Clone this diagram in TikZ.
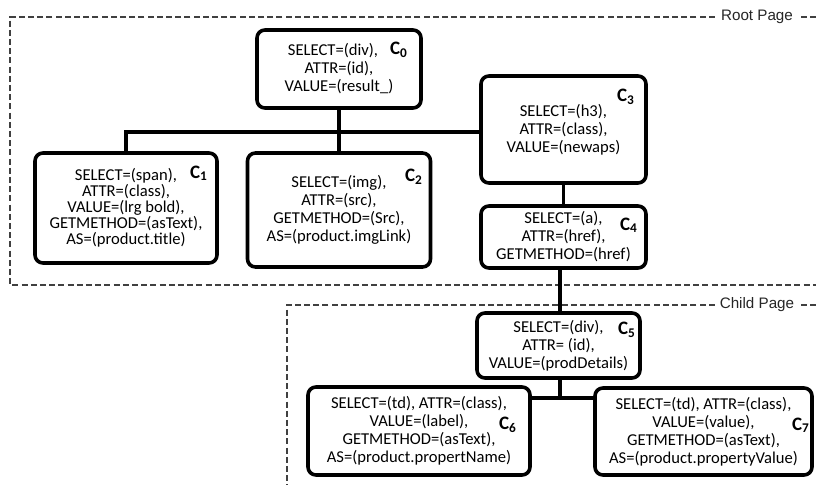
\documentclass[tikz,border=0pt]{standalone}
\usepackage{fontspec}
\setmainfont{Carlito}
\newfontfamily\arialfont{Liberation Sans}

\begin{document}
\begin{tikzpicture}[x=0.5pt, y=-0.5pt, every node/.style={font=\fontsize{8.3}{9}\selectfont},
	box/.style={draw, line width=1.8pt, rounded corners=4pt, align=center, inner sep=0pt},
	lab/.style={font=\fontsize{9.5}{10}\selectfont\bfseries, inner sep=0pt},
	wire/.style={line width=1.8pt},
	page/.style={dash pattern=on 3pt off 1.6pt, line width=0.75pt, black!75},
	pagelab/.style={fill=white, font=\fontsize{7.6}{9}\selectfont\arialfont, inner sep=2.5pt, text=black!85}]
	\useasboundingbox (0,0) rectangle (816,485);
	% page frames
	\draw[page] (816,17) -- (10,17) -- (10,285) -- (816,285);
	\node[pagelab] (root) at (757,17) {Root Page};
	\draw[page] (816,305) -- (287,305) -- (287,485);
	\node[pagelab] (child) at (757,305) {Child Page};
	% root page boxes
	\node[box, minimum width=82pt, minimum height=39pt] (c0) at (339,69) {SELECT=(div),\hspace*{6pt}\\ ATTR=(id),\hspace*{6pt}\\ VALUE=(result\_)};
	\node[box, minimum width=91pt, minimum height=55pt, font=\fontsize{8.3}{8}\selectfont] (c1) at (126,208) {SELECT=(span),\\ ATTR=(class),\\ VALUE=(lrg bold),\\ GETMETHOD=(asText),\\ AS=(product.title)};
	\node[box, minimum width=91.5pt, minimum height=57pt] (c2) at (339,210) {SELECT=(img),\\ ATTR=(src),\\ GETMETHOD=(Src),\\ AS=(product.imgLink)};
	\node[box, minimum width=82.5pt, minimum height=53.5pt] (c3) at (563.5,129.5) {SELECT=(h3),\\ ATTR=(class),\\ VALUE=(newaps)};
	\node[box, minimum width=82.5pt, minimum height=31pt] (c4) at (563.5,237) {SELECT=(a),\\ ATTR=(href),\\ GETMETHOD=(href)};
	% child page boxes
	\node[box, minimum width=81.5pt, minimum height=32.5pt] (c5) at (558.5,345.5) {SELECT=(div),\\ ATTR= (id),\\ VALUE=(prodDetails)};
	\node[box, minimum width=111pt, minimum height=44pt] (c6) at (419,431) {SELECT=(td), ATTR=(class),\\ VALUE=(label),\\ GETMETHOD=(asText),\\ AS=(product.propertName)};
	\node[box, minimum width=108.5pt, minimum height=43.5pt] (c7) at (703.5,431.5) {SELECT=(td), ATTR=(class),\\ VALUE=(value),\\ GETMETHOD=(asText),\\ AS=(product.propertyValue)};
	% labels
	\node[lab] (l0) at (399,50) {C\textsubscript{0}};
	\node[lab] (l1) at (199,173) {C\textsubscript{1}};
	\node[lab] (l2) at (414,177) {C\textsubscript{2}};
	\node[lab] (l3) at (626,97) {C\textsubscript{3}};
	\node[lab] (l4) at (629,225) {C\textsubscript{4}};
	\node[lab] (l5) at (627,330) {C\textsubscript{5}};
	\node[lab] (l6) at (508,425) {C\textsubscript{6}};
	\node[lab] (l7) at (801,425) {C\textsubscript{7}};
	% connectors
	\coordinate (j0) at (339,132);
	\coordinate (j1) at (560,398);
	\draw[wire] (c0) -- (c2);
	\draw[wire] (c1.north) |- (c3.west |- j0);
	\draw[wire] (c3) -- (c4);
	\draw[wire] (c5.north -| j1) -- (c4.south -| j1);
	\draw[wire] (c5.south -| j1) -- (j1);
	\draw[wire] (c6.east |- j1) -- (c7.west |- j1);
\end{tikzpicture}
\end{document}
